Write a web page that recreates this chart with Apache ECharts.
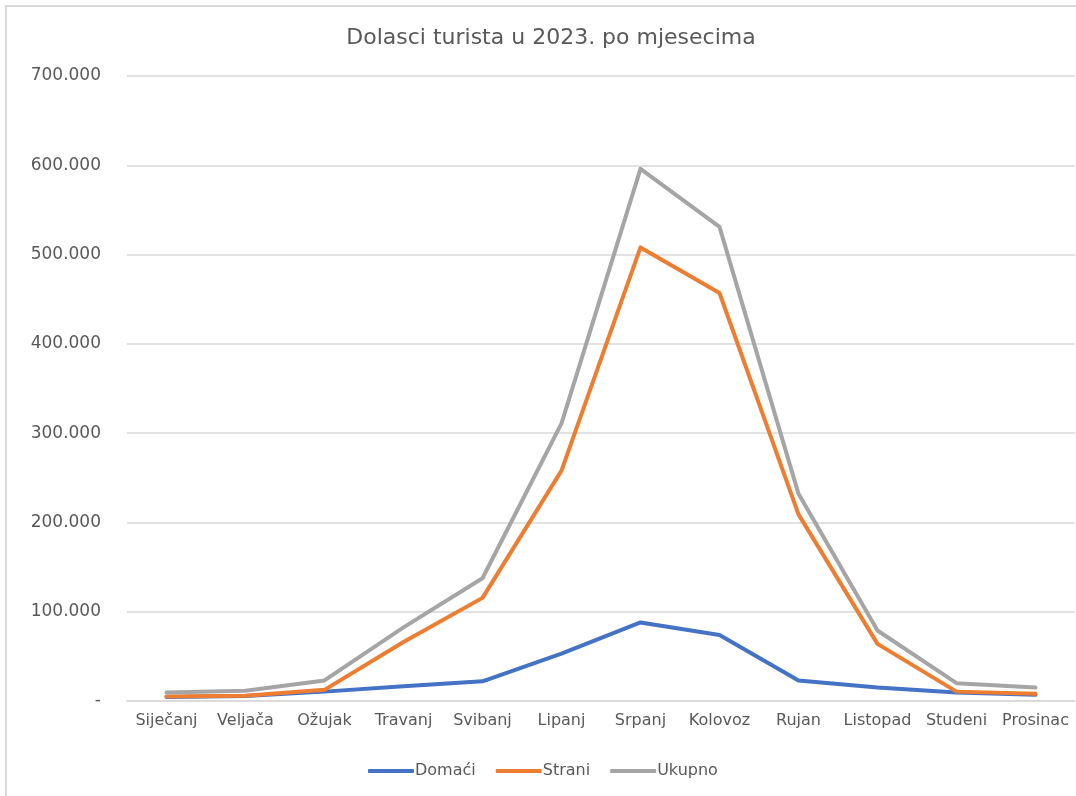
<!DOCTYPE html>
<html>
<head>
<meta charset="utf-8">
<script src="https://cdn.jsdelivr.net/npm/echarts@6/dist/echarts.min.js"></script>
<style>
  html, body { margin: 0; padding: 0; background: #fff; overflow: hidden; }
  #frame { position: absolute; left: 5px; top: 5px; width: 1069px; height: 789px; border-left: 2px solid #d9d9d9; border-top: 2px solid #d9d9d9; }
  #main { position: absolute; left: 0; top: 0; width: 1076px; height: 796px; }
</style>
</head>
<body>
<div id="frame"></div>
<div id="main"></div>
<script>
// mjeseci
let months = ["Siječanj", "Veljača", "Ožujak", "Travanj", "Svibanj", "Lipanj", "Srpanj", "Kolovoz", "Rujan", "Listopad", "Studeni", "Prosinac"];
// dolasci po mjesecima
let domaci = [4500, 5500, 10500, 16500, 22000, 53000, 88000, 74000, 23000, 15000, 9500, 7000];
let strani = [5000, 6000, 12500, 66000, 115500, 258000, 508000, 457000, 209000, 64000, 10500, 8000];
let ukupno = [9500, 11500, 23000, 82500, 137500, 311000, 596000, 531000, 232000, 79000, 20000, 15000];

let textColor = "#595959";
let font = "DejaVu Sans";

function fmt(v) {
  if (v === 0) return "-";
  return String(v).replace(/\B(?=(\d{3})+(?!\d))/g, ".");
}

function lineSeries(name, data, color) {
  return {
    name: name,
    type: "line",
    data: data,
    symbol: "none",
    showSymbol: false,
    lineStyle: { width: 4, color: color, cap: "round", join: "round" },
    itemStyle: { color: color }
  };
}

let chart = echarts.init(document.getElementById("main"));
let option = {
  animation: false,
  title: {
    text: "Dolasci turista u 2023. po mjesecima",
    left: 546,
    textAlign: "center",
    top: 22,
    textStyle: { color: textColor, fontFamily: font, fontSize: 22, fontWeight: "normal" }
  },
  legend: {
    bottom: 12,
    left: 363,
    icon: "roundRect",
    itemWidth: 46,
    itemHeight: 4,
    itemGap: 20,
    textStyle: { color: textColor, fontFamily: font, fontSize: 16, padding: [0, 0, 0, -4] },
    data: ["Domaći", "Strani", "Ukupno"]
  },
  grid: { left: 127, right: 1, top: 76, bottom: 95, containLabel: false },
  xAxis: {
    type: "category",
    data: months,
    boundaryGap: true,
    axisLine: { show: true, lineStyle: { color: "#d9d9d9", width: 1.5 } },
    axisTick: { show: false },
    axisLabel: { color: textColor, fontFamily: font, fontSize: 16, margin: 12, interval: 0 }
  },
  yAxis: {
    type: "value",
    min: 0,
    max: 700000,
    interval: 100000,
    axisLine: { show: false },
    axisTick: { show: false },
    splitLine: { lineStyle: { color: "#d9d9d9", width: 1.5 } },
    axisLabel: { color: textColor, fontFamily: font, fontSize: 17, margin: 26, formatter: fmt }
  },
  series: [
    lineSeries("Domaći", domaci, "#4472C4"),
    lineSeries("Strani", strani, "#ED7D31"),
    lineSeries("Ukupno", ukupno, "#A5A5A5")
  ]
};
chart.setOption(option, true);
</script>
</body>
</html>
